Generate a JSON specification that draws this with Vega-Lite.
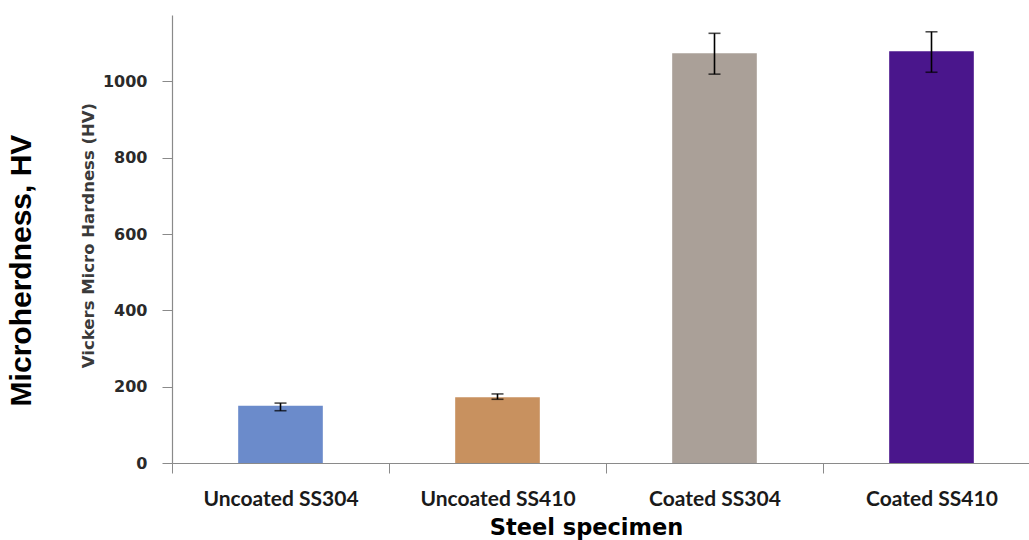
{
  "$schema": "https://vega.github.io/schema/vega-lite/v6.json",
  "autosize": "none",
  "width": 857,
  "height": 448,
  "padding": {"left": 172, "top": 15, "right": 0, "bottom": 77},
  "background": "white",
  "config": {"view": {"stroke": null}},
  "data": {
    "values": [
      {"specimen": "Uncoated SS304", "hv": 150, "lo": 137, "hi": 157},
      {"specimen": "Uncoated SS410", "hv": 172, "lo": 167, "hi": 181},
      {"specimen": "Coated SS304", "hv": 1074, "lo": 1019, "hi": 1126},
      {"specimen": "Coated SS410", "hv": 1079, "lo": 1024, "hi": 1130}
    ]
  },
  "resolve": {"axis": {"y": "independent"}},
  "layer": [
    {
      "mark": {"type": "bar", "width": {"band": 0.39}},
      "encoding": {
        "x": {
          "field": "specimen", "type": "nominal", "sort": null,
          "scale": {"range": [0, 868], "paddingInner": 0, "paddingOuter": 0},
          "axis": {
            "title": "Steel specimen", "labelAngle": 0, "tickBand": "extent",
            "tickSize": 10, "tickColor": "#8a8a8a", "domainColor": "#8a8a8a", "domainWidth": 1.2,
            "labelFont": "Lato", "labelFontWeight": "bold", "labelFontSize": 21, "labelColor": "#1a1a1a",
            "labelPadding": 15,
            "titleFont": "DejaVu Sans", "titleFontWeight": "bold", "titleFontSize": 22.5, "titleColor": "#000000",
            "titleBaseline": "alphabetic", "titleX": 414, "titleY": 71
          }
        },
        "y": {
          "field": "hv", "type": "quantitative",
          "scale": {"domain": [0, 1174], "nice": false, "zero": true},
          "axis": {
            "orient": "left", "values": [0, 200, 400, 600, 800, 1000], "format": "d", "grid": false,
            "title": "Vickers Micro Hardness  (HV)",
            "titleFont": "DejaVu Sans", "titleFontWeight": "bold", "titleFontSize": 16.5, "titleColor": "#3a3a3a",
            "titlePadding": 6, "titleY": 220,
            "labelFont": "DejaVu Sans", "labelFontWeight": "bold", "labelFontSize": 16, "labelColor": "#2a2a2a",
            "labelPadding": 15, "tickSize": 10, "tickColor": "#8a8a8a", "domainColor": "#8a8a8a", "domainWidth": 1.2
          }
        },
        "color": {
          "field": "specimen", "type": "nominal", "sort": null, "legend": null,
          "scale": {
            "domain": ["Uncoated SS304", "Uncoated SS410", "Coated SS304", "Coated SS410"],
            "range": ["#6b8bcb", "#c8915f", "#aaa098", "#4a168c"]
          }
        }
      }
    },
    {
      "mark": {"type": "rule", "color": "#000000", "strokeWidth": 1.6},
      "encoding": {
        "x": {"field": "specimen", "type": "nominal", "sort": null},
        "y": {
          "field": "lo", "type": "quantitative",
          "axis": {
            "orient": "left", "title": "Microherdness, HV", "labels": false, "ticks": false,
            "domain": false, "grid": false,
            "titleFont": "Liberation Sans", "titleFontWeight": "bold", "titleFontSize": 30, "titleColor": "#000000",
            "titlePadding": 136, "titleY": 255
          }
        },
        "y2": {"field": "hi"}
      }
    },
    {
      "mark": {"type": "tick", "color": "#000000", "size": 12, "thickness": 1.6},
      "encoding": {
        "x": {"field": "specimen", "type": "nominal", "sort": null},
        "y": {"field": "lo", "type": "quantitative", "axis": null}
      }
    },
    {
      "mark": {"type": "tick", "color": "#000000", "size": 12, "thickness": 1.6},
      "encoding": {
        "x": {"field": "specimen", "type": "nominal", "sort": null},
        "y": {"field": "hi", "type": "quantitative", "axis": null}
      }
    }
  ]
}
